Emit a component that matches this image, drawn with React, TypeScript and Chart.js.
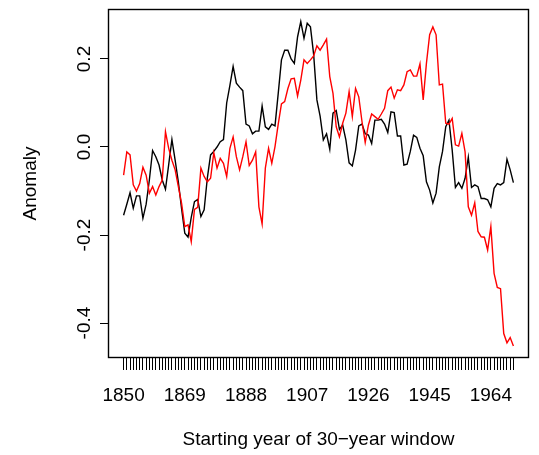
import React, { useEffect, useRef } from "react";
import { Chart, registerables } from "chart.js";

Chart.register(...registerables);

const startYear = 1850;
const years: number[] = Array.from({ length: 122 }, (_, i) => startYear + i);
const labelYears = [1850, 1869, 1888, 1907, 1926, 1945, 1964];
const yTicks = [-0.4, -0.2, 0.0, 0.2];

const blackSeries = [
  -0.155, -0.13, -0.104, -0.139, -0.111, -0.111, -0.162, -0.13, -0.075, -0.008,
  -0.022, -0.041, -0.075, -0.096, -0.04, 0.017, -0.03, -0.08, -0.14, -0.196,
  -0.205, -0.16, -0.124, -0.119, -0.158, -0.143, -0.07, -0.018, -0.01, 0.0,
  0.012, 0.017, 0.1, 0.14, 0.183, 0.145, 0.136, 0.128, 0.052, 0.048,
  0.03, 0.036, 0.036, 0.093, 0.046, 0.04, 0.052, 0.048, 0.122, 0.198,
  0.22, 0.22, 0.2, 0.19, 0.25, 0.285, 0.247, 0.281, 0.273, 0.21,
  0.107, 0.07, 0.016, 0.03, -0.005, 0.077, 0.083, 0.04, 0.05, 0.016,
  -0.036, -0.043, -0.007, 0.048, 0.052, 0.03, 0.027, 0.008, 0.061, 0.061,
  0.063, 0.052, 0.033, 0.08, 0.078, 0.025, 0.025, -0.041, -0.039, -0.01,
  0.027, 0.022, -0.003, -0.02, -0.079, -0.098, -0.127, -0.105, -0.045, -0.01,
  0.046, 0.061, -0.007, -0.092, -0.081, -0.094, -0.071, -0.023, -0.092, -0.086,
  -0.09, -0.117, -0.117, -0.12, -0.136, -0.094, -0.083, -0.086, -0.081, -0.028,
  -0.052, -0.081,
];

const redSeries = [
  -0.064, -0.011, -0.018, -0.086, -0.1, -0.083, -0.046, -0.064, -0.105, -0.09,
  -0.109, -0.09, -0.075, 0.035, -0.003, -0.03, -0.052, -0.09, -0.128, -0.181,
  -0.177, -0.215, -0.142, -0.137, -0.048, -0.067, -0.079, -0.071, -0.013, -0.048,
  -0.026, -0.037, -0.067, -0.003, 0.023, -0.022, -0.052, -0.022, 0.012, -0.042,
  -0.03, -0.011, -0.136, -0.175, -0.048, -0.003, -0.037, 0.001, 0.052, 0.098,
  0.103, 0.133, 0.155, 0.156, 0.116, 0.152, 0.198, 0.19, 0.198, 0.207,
  0.23, 0.22, 0.232, 0.245, 0.16, 0.122, 0.046, 0.023, 0.054, 0.077,
  0.126, 0.069, 0.133, 0.114, 0.058, 0.01, 0.05, 0.075, 0.069, 0.063,
  0.075, 0.088, 0.128, 0.136, 0.111, 0.13, 0.128, 0.141, 0.171, 0.175,
  0.161, 0.161, 0.189, 0.107, 0.19, 0.255, 0.273, 0.255, 0.141, 0.143,
  0.054, 0.052, 0.065, 0.005, 0.002, 0.031, -0.011, -0.136, -0.155, -0.127,
  -0.192, -0.204, -0.205, -0.234, -0.181, -0.287, -0.319, -0.322, -0.424, -0.445,
  -0.433, -0.452,
];

const FONT = '"Liberation Sans", Arial, Helvetica, sans-serif';
const FONT_SIZE = 19;

const W = 539;
const H = 455;
const AREA = { left: 108, right: 529, top: 9, bottom: 358 };

const framePlugin = {
  id: "rframe",
  afterDraw(chart: any) {
    const { ctx, chartArea: a, scales } = chart;
    ctx.save();
    ctx.strokeStyle = "#000";
    ctx.lineWidth = 1.4;
    ctx.strokeRect(
      Math.round(a.left) + 0.5,
      Math.round(a.top) + 0.5,
      Math.round(a.right - a.left) - 1,
      Math.round(a.bottom - a.top) - 1
    );
    ctx.fillStyle = "#000";
    ctx.font = `${FONT_SIZE}px ${FONT}`;
    ctx.textAlign = "center";
    ctx.textBaseline = "middle";
    // y tick labels (rotated, as in R)
    yTicks.forEach((v) => {
      const y = scales.y.getPixelForValue(v);
      ctx.save();
      ctx.translate(85, y);
      ctx.rotate(-Math.PI / 2);
      ctx.fillText(v.toFixed(1), 0, 0);
      ctx.restore();
    });
    // axis titles
    ctx.save();
    ctx.translate(31, (a.top + a.bottom) / 2);
    ctx.rotate(-Math.PI / 2);
    ctx.fillText("Anomaly", 0, 0);
    ctx.restore();
    ctx.fillText("Starting year of 30\u2212year window", (a.left + a.right) / 2, 440);
    ctx.restore();
  },
};

export default function App() {
  const ref = useRef<HTMLCanvasElement>(null);

  useEffect(() => {
    if (!ref.current) return;
    const chart = new Chart(ref.current, {
      type: "line",
      data: {
        datasets: [
          {
            label: "red",
            data: years.map((x, i) => ({ x, y: redSeries[i] })),
            borderColor: "#ff0000",
            borderWidth: 1.4,
            pointRadius: 0,
            tension: 0,
            order: 0,
          },
          {
            label: "black",
            data: years.map((x, i) => ({ x, y: blackSeries[i] })),
            borderColor: "#000000",
            borderWidth: 1.4,
            pointRadius: 0,
            tension: 0,
            order: 1,
          },
        ],
      },
      options: {
        responsive: false,
        animation: false,
        devicePixelRatio: 1,
        events: [],
        layout: {
          padding: { left: 0, right: W - AREA.right, top: AREA.top, bottom: 0 },
        },
        plugins: {
          legend: { display: false },
          tooltip: { enabled: false },
          title: { display: false },
        },
        scales: {
          x: {
            type: "linear",
            min: 1845.16,
            max: 1975.84,
            afterBuildTicks: (s: any) => {
              s.ticks = years.map((v) => ({ value: v }));
            },
            afterFit: (s: any) => {
              s.height = H - AREA.bottom;
            },
            border: { display: false },
            grid: {
              display: true,
              drawOnChartArea: false,
              drawTicks: true,
              tickLength: 12,
              color: "#000",
              lineWidth: 1,
            },
            ticks: {
              autoSkip: false,
              maxRotation: 0,
              minRotation: 0,
              padding: 14,
              color: "#000",
              font: { family: FONT, size: FONT_SIZE },
              callback: (v: any) => (labelYears.includes(Number(v)) ? String(v) : ""),
            },
          },
          y: {
            type: "linear",
            min: -0.4795,
            max: 0.3136,
            afterBuildTicks: (s: any) => {
              s.ticks = yTicks.map((v) => ({ value: v }));
            },
            afterFit: (s: any) => {
              s.width = AREA.left;
            },
            border: { display: false },
            grid: {
              display: true,
              drawOnChartArea: false,
              drawTicks: true,
              tickLength: 8,
              color: "#000",
              lineWidth: 1,
            },
            ticks: { display: false },
          },
        },
      },
      plugins: [framePlugin],
    });
    return () => chart.destroy();
  }, []);

  return (
    <div style={{ position: "fixed", left: 0, top: 0, width: W, height: H, background: "#fff" }}>
      <canvas ref={ref} width={W} height={H} style={{ width: W, height: H, display: "block" }} />
    </div>
  );
}
